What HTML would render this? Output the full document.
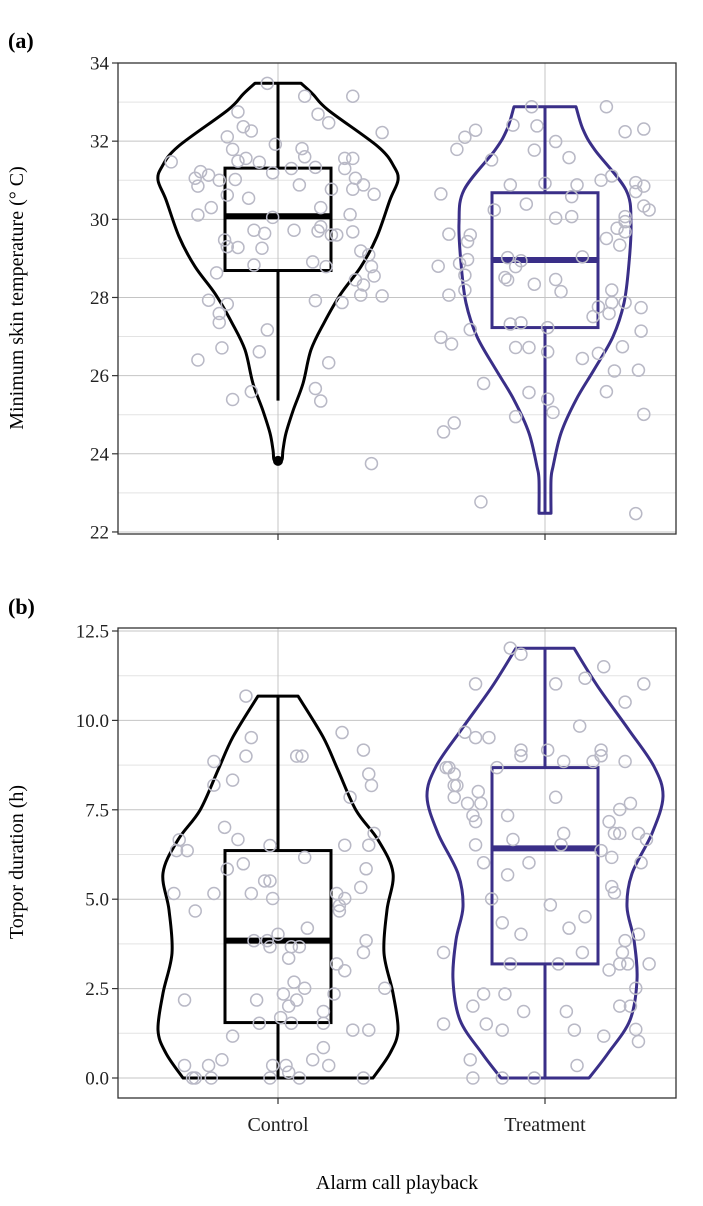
<!DOCTYPE html>
<html><head><meta charset="utf-8"><style>
html,body{margin:0;padding:0;background:#fff;}
svg{display:block;font-family:"Liberation Serif",serif;}
</style></head><body>
<svg id="chart" width="703" height="1206" viewBox="0 0 703 1206" xmlns="http://www.w3.org/2000/svg">
<text x="8" y="48" font-size="22" font-weight="bold">(a)</text>
<text x="8" y="614" font-size="22" font-weight="bold">(b)</text>
<text transform="translate(23,298) rotate(-90)" text-anchor="middle" font-size="20">Minimum skin temperature (° C)</text>
<text transform="translate(23,862) rotate(-90)" text-anchor="middle" font-size="20">Torpor duration (h)</text>
<text x="397" y="1189" text-anchor="middle" font-size="20">Alarm call playback</text>
<g id="pa"></g>
<g id="pb"></g>
</svg>
<script>
const categories = ["Control", "Treatment"];
const colors = ["#000000", "#3a2f88"];

// Panel a: minimum skin temperature
const ticksA = [22, 24, 26, 28, 30, 32, 34];
const tickLabelsA = ["22", "24", "26", "28", "30", "32", "34"];
const boxA_q1 = [28.69, 27.23];
const boxA_med = [30.08, 28.96];
const boxA_q3 = [31.31, 30.68];
const boxA_lo = [25.36, 22.5];
const boxA_hi = [33.48, 32.88];
const violinA_ctrl = [[33.48,0.23],[33.2,0.35],[32.8,0.50],[31.86,1.00],[31.35,1.16],[31.0,1.20],[30.5,1.12],[29.56,0.99],[28.79,0.83],[28.1,0.63],[27.35,0.46],[26.66,0.33],[25.8,0.25],[25.1,0.15],[24.53,0.08],[24.1,0.05],[23.85,0.04],[23.77,0]];
const violinA_trt = [[32.88,0.31],[32.3,0.38],[31.77,0.50],[30.75,0.81],[29.9,0.86],[28.88,0.84],[27.86,0.79],[27.0,0.68],[26.15,0.49],[25.38,0.31],[24.53,0.16],[23.67,0.08],[23.33,0.06],[22.48,0.06]];
const ptsA_ctrl_j = [-.04,.10,.28,-.15,.15,.19,.39,-.13,-.10,-.19,-.01,.09,-.17,.10,-.40,-.15,-.12,-.07,.25,.28,-.29,-.26,-.31,-.22,-.16,-.02,.05,.14,.25,.29,.32,-.30,.08,.20,.28,.36,-.19,-.11,-.25,.16,-.30,-.02,.27,-.09,.06,.15,-.05,.16,.20,.22,.28,-.20,-.19,-.15,-.06,.31,.34,.13,-.09,.18,.35,-.23,.36,.29,.32,.31,.39,.14,.24,-.26,-.19,-.22,-.22,-.04,-.21,-.07,-.30,.19,.14,.16,-.10,-.17,.35];
const ptsA_ctrl_v = [33.48,33.15,33.15,32.75,32.69,32.47,32.22,32.37,32.26,32.11,31.92,31.81,31.79,31.60,31.47,31.49,31.56,31.46,31.56,31.56,31.22,31.13,31.05,31.0,31.02,31.19,31.30,31.33,31.30,31.05,30.88,30.85,30.88,30.77,30.77,30.64,30.62,30.54,30.30,30.30,30.11,30.05,30.12,29.72,29.72,29.70,29.64,29.81,29.60,29.60,29.68,29.47,29.30,29.28,29.26,29.19,29.09,28.91,28.83,28.79,28.79,28.63,28.55,28.45,28.32,28.06,28.04,27.92,27.87,27.93,27.83,27.59,27.36,27.17,26.71,26.61,26.40,26.33,25.67,25.35,25.59,25.39,23.75];
const ptsA_trt_j = [-.05,.23,-.12,-.03,-.26,-.30,.30,.37,-.33,-.04,.04,.09,-.20,-.13,.00,.12,.21,.25,.34,.37,-.39,.10,.34,-.19,-.07,.04,.10,.30,.30,.37,.39,.27,.30,-.36,-.28,-.29,.23,.28,-.29,-.32,-.40,-.14,-.09,-.11,.14,-.30,-.15,-.14,-.04,.04,.06,-.30,-.36,.25,.25,.30,.20,.24,.18,.36,-.13,-.09,.01,-.28,.36,-.39,-.35,-.11,-.06,.01,.14,.20,.29,.26,.35,-.23,-.06,.23,.01,.03,-.11,.37,-.34,-.38,-.24,.34];
const ptsA_trt_v = [32.88,32.88,32.41,32.39,32.28,32.10,32.24,32.31,31.79,31.77,31.99,31.58,31.52,30.88,30.92,30.88,31.0,31.11,30.94,30.85,30.65,30.58,30.71,30.24,30.39,30.03,30.07,30.07,29.94,30.34,30.24,29.77,29.68,29.62,29.60,29.43,29.51,29.34,28.97,28.87,28.80,29.02,28.94,28.79,29.04,28.57,28.51,28.45,28.34,28.46,28.15,28.19,28.06,28.19,27.87,27.87,27.76,27.59,27.51,27.74,27.32,27.35,27.23,27.18,27.14,26.98,26.81,26.72,26.72,26.61,26.44,26.57,26.74,26.12,26.14,25.80,25.57,25.59,25.40,25.06,24.95,25.01,24.79,24.56,22.77,22.47];

// Panel b: torpor duration
const ticksB = [0, 2.5, 5, 7.5, 10, 12.5];
const tickLabelsB = ["0.0", "2.5", "5.0", "7.5", "10.0", "12.5"];
const boxB_q1 = [1.55, 3.19];
const boxB_med = [3.84, 6.42];
const boxB_q3 = [6.36, 8.68];
const boxB_lo = [0, 0];
const boxB_hi = [10.68, 12.02];
const violinB_ctrl = [[10.68,0.20],[9.54,0.45],[8.61,0.60],[7.49,0.78],[6.66,1.00],[5.73,1.15],[4.7,1.09],[3.49,1.06],[2.37,1.15],[1.34,1.20],[0.69,1.12],[0,0.95]];
const violinB_trt = [[12.02,0.29],[10.94,0.53],[9.73,0.84],[8.71,1.09],[7.87,1.18],[6.84,1.07],[5.72,0.87],[4.79,0.82],[3.86,0.89],[2.74,0.92],[1.62,0.85],[0.69,0.63],[0,0.44]];
const ptsB_ctrl_j = [-.12,-.10,.24,.32,-.24,-.12,.07,.09,.34,.35,-.24,-.17,.27,.36,-.37,-.38,-.34,-.20,-.15,-.03,.25,.34,.10,.33,-.19,-.13,-.05,-.03,-.39,-.24,-.10,-.02,.22,.25,.31,-.31,.23,.23,.11,.00,-.09,-.04,-.03,.05,.08,.33,.32,.22,.25,.04,.06,.10,.40,-.35,-.08,.02,.07,.21,.04,.17,.01,.05,-.07,.17,.28,.34,-.17,.17,-.21,-.26,.13,.19,-.35,-.02,.03,.04,-.32,-.31,-.25,-.03,.08,.32];
const ptsB_ctrl_v = [10.68,9.52,9.66,9.17,8.85,9.00,9.00,9.00,8.50,8.18,8.19,8.33,7.85,6.84,6.66,6.36,6.36,7.01,6.67,6.50,6.51,6.51,6.17,5.85,5.84,5.99,5.51,5.51,5.16,5.16,5.16,5.02,5.16,5.02,5.33,4.67,4.82,4.67,4.19,4.02,3.84,3.84,3.67,3.67,3.67,3.84,3.51,3.19,3.00,3.35,2.68,2.51,2.51,2.18,2.18,2.35,2.18,2.35,2.01,1.86,1.69,1.53,1.53,1.53,1.34,1.34,1.17,0.85,0.51,0.35,0.51,0.35,0.35,0.35,0.35,0.16,0,0,0,0,0,0];
const ptsB_trt_j = [-.13,-.09,.22,.15,-.26,.04,.37,.30,.13,-.30,-.26,-.21,-.09,-.09,.01,.21,.21,.07,.18,.30,-.18,-.37,-.36,-.34,-.34,-.33,-.34,-.25,-.29,-.24,.04,.32,.28,-.27,-.26,-.14,.24,.26,.28,.35,.38,.07,.06,-.12,-.26,.21,.25,.36,-.23,-.06,-.14,.25,.26,-.20,.02,.15,-.16,.09,-.09,.30,.35,.29,.14,-.38,-.13,.05,.24,.28,.31,.39,.34,-.23,-.15,-.27,-.08,.08,.28,.32,-.38,-.22,-.16,.11,.34,.22,.35,-.28,.12,-.27,-.16,-.04];
const ptsB_trt_v = [12.02,11.85,11.50,11.18,11.02,11.02,11.02,10.51,9.84,9.67,9.52,9.52,9.17,9.01,9.17,9.17,9.01,8.85,8.85,8.85,8.68,8.68,8.68,8.50,8.18,8.18,7.85,8.01,7.68,7.68,7.85,7.68,7.51,7.34,7.17,7.34,7.17,6.84,6.84,6.84,6.67,6.84,6.52,6.67,6.52,6.36,6.17,6.02,6.02,6.02,5.68,5.35,5.18,5.01,4.84,4.51,4.34,4.19,4.02,3.84,4.02,3.51,3.51,3.51,3.19,3.19,3.02,3.19,3.19,3.19,2.51,2.35,2.35,2.01,1.86,1.86,2.01,2.01,1.51,1.51,1.34,1.34,1.36,1.17,1.02,0.51,0.35,0,0,0];

const NS = "http://www.w3.org/2000/svg";
const X0 = 118, X1 = 676, CAT_X = [278, 545], CAT_W = 267, DENS_PX = 100;
function xPos(i, j) { return CAT_X[i] + j * CAT_W; }
function mk(parent, tag, attrs) {
  const e = document.createElementNS(NS, tag);
  for (const k in attrs) e.setAttribute(k, attrs[k]);
  parent.appendChild(e);
  return e;
}
function smoothPath(pts) {
  let d = "M" + pts[0][0].toFixed(1) + "," + pts[0][1].toFixed(1);
  for (let i = 0; i < pts.length - 1; i++) {
    const p0 = pts[Math.max(0, i - 1)], p1 = pts[i], p2 = pts[i + 1], p3 = pts[Math.min(pts.length - 1, i + 2)];
    const c1x = p1[0] + (p2[0] - p0[0]) / 6, c1y = p1[1] + (p2[1] - p0[1]) / 6;
    const c2x = p2[0] - (p3[0] - p1[0]) / 6, c2y = p2[1] - (p3[1] - p1[1]) / 6;
    d += "C" + c1x.toFixed(1) + "," + c1y.toFixed(1) + " " + c2x.toFixed(1) + "," + c2y.toFixed(1) + " " + p2[0].toFixed(1) + "," + p2[1].toFixed(1);
  }
  return d;
}
function panel(g, top, bottom, yScale, ticks, tickLabels, minorTicks, violins, box, pts) {
  mk(g, "rect", {x: X0, y: top, width: X1 - X0, height: bottom - top, fill: "#fff"});
  minorTicks.forEach(v => {
    const l = mk(g, "line", {x1: X0, x2: X1, y1: yScale(v), y2: yScale(v), stroke: "#e3e3e3", "stroke-width": 1});
    
    
  });
  ticks.forEach((v, i) => {
    const y = yScale(v);
    const l = mk(g, "line", {x1: X0, x2: X1, y1: y, y2: y, stroke: "#c4c4c4", "stroke-width": 1});
    
    
    const t = mk(g, "line", {x1: X0 - 6, x2: X0, y1: y, y2: y, stroke: "#333", "stroke-width": 1.2});
    
    
    const tx = mk(g, "text", {x: X0 - 9, y: y + 6.5, "text-anchor": "end", "font-size": 19, fill: "#222"});
    tx.textContent = tickLabels[i];
    
    
  });
  CAT_X.forEach(cx => {
    const l = mk(g, "line", {x1: cx, x2: cx, y1: top, y2: bottom, stroke: "#c4c4c4", "stroke-width": 1});
    
    
    const t = mk(g, "line", {x1: cx, x2: cx, y1: bottom, y2: bottom + 6, stroke: "#333", "stroke-width": 1.2});
    
    
  });
  const fr = mk(g, "rect", {x: X0, y: top, width: X1 - X0, height: bottom - top, fill: "none", stroke: "#333", "stroke-width": 1.3});
  
  
  violins.forEach((prof, i) => {
    const cx = CAT_X[i];
    const left = prof.map(p => [cx - p[1] * DENS_PX, yScale(p[0])]);
    const right = prof.slice().reverse().map(p => [cx + p[1] * DENS_PX, yScale(p[0])]);
    let d = smoothPath(left);
    const r0 = right[0];
    d += "L" + r0[0].toFixed(1) + "," + r0[1].toFixed(1);
    d += smoothPath(right).replace(/^M[^C]*/, "");
    d += "Z";
    const p = mk(g, "path", {d: d, fill: "none", stroke: colors[i], "stroke-width": 3, "stroke-linejoin": "round"});
    
    
  });
  categories.forEach((c, i) => {
    const cx = CAT_X[i], hw = 53;
    const w1 = mk(g, "line", {x1: cx, x2: cx, y1: yScale(box.hi[i]), y2: yScale(box.q3[i]), stroke: colors[i], "stroke-width": 3});
    
    
    const w2 = mk(g, "line", {x1: cx, x2: cx, y1: yScale(box.q1[i]), y2: yScale(box.lo[i]), stroke: colors[i], "stroke-width": 3});
    
    
    const r = mk(g, "rect", {x: cx - hw, y: yScale(box.q3[i]), width: 2 * hw, height: yScale(box.q1[i]) - yScale(box.q3[i]), fill: "none", stroke: colors[i], "stroke-width": 3});
    
    
    const m = mk(g, "line", {x1: cx - hw, x2: cx + hw, y1: yScale(box.med[i]), y2: yScale(box.med[i]), stroke: colors[i], "stroke-width": 6});
    
    
  });
  pts.forEach((s, i) => {
    s.j.forEach((j, k) => {
      const c = mk(g, "circle", {cx: xPos(i, j), cy: yScale(s.v[k]), r: 6, fill: "none", stroke: "#b9b9c6", "stroke-width": 1.5});
      
      
    });
  });
}
const yA = v => 63 + (34 - v) * 39.08;
const yB = v => 1078 - v * 35.76;
const minorA = [23, 25, 27, 29, 31, 33];
const minorB = [1.25, 3.75, 6.25, 8.75, 11.25];
const pa = document.getElementById("pa");
panel(pa, 63, 534, yA, ticksA, tickLabelsA, minorA, [violinA_ctrl, violinA_trt],
  {q1: boxA_q1, med: boxA_med, q3: boxA_q3, lo: boxA_lo, hi: boxA_hi},
  [{j: ptsA_ctrl_j, v: ptsA_ctrl_v}, {j: ptsA_trt_j, v: ptsA_trt_v}]);
const blob = mk(pa, "circle", {cx: CAT_X[0], cy: yA(23.82), r: 5, fill: "#000"});


const pb = document.getElementById("pb");
panel(pb, 628, 1098, yB, ticksB, tickLabelsB, minorB, [violinB_ctrl, violinB_trt],
  {q1: boxB_q1, med: boxB_med, q3: boxB_q3, lo: boxB_lo, hi: boxB_hi},
  [{j: ptsB_ctrl_j, v: ptsB_ctrl_v}, {j: ptsB_trt_j, v: ptsB_trt_v}]);
categories.forEach((c, i) => {
  const t = mk(pb, "text", {x: CAT_X[i], y: 1131, "text-anchor": "middle", "font-size": 20, fill: "#222"});
  t.textContent = c;
  
  
});
</script>
</body></html>
